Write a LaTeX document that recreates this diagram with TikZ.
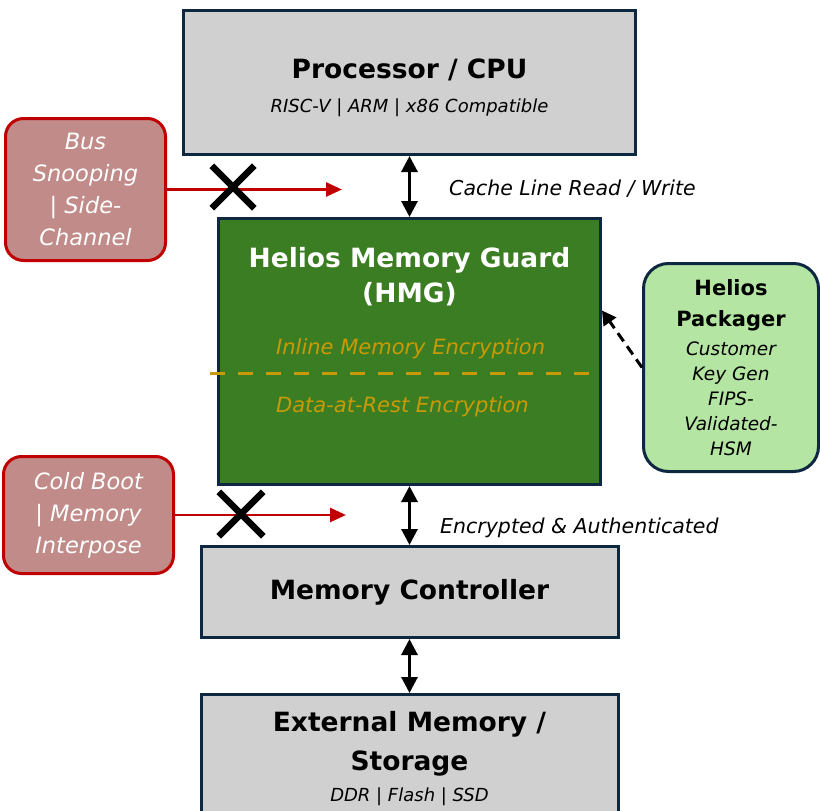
\documentclass[tikz,border=0pt]{standalone}
\usepackage{fontspec}
\setmainfont{DejaVu Sans}
\usepackage{xcolor}
\usepackage{tikz}
\usetikzlibrary{positioning, arrows.meta, shapes.misc}
\definecolor{navy}{HTML}{0E2841}
\definecolor{grey}{HTML}{D0D0D0}
\definecolor{guardgreen}{HTML}{3B7D23}
\definecolor{gold}{HTML}{C99A06}
\definecolor{alertred}{HTML}{C00000}
\definecolor{rose}{HTML}{C08B88}
\definecolor{mint}{HTML}{B4E5A2}
\newcommand\bigbf{\fontsize{26.5}{39}\selectfont\bfseries}
\newcommand\smallit{\fontsize{18}{24}\selectfont\mdseries\itshape}
\newcommand\pkgit{\fontsize{18.5}{25}\selectfont\mdseries\itshape}

\begin{document}
\begin{tikzpicture}[x=1pt, y=-1pt,
    block/.style={draw=navy, line width=3pt, fill=grey, inner sep=0pt, align=center, font=\bigbf},
    caption/.style={inner sep=0pt, align=center, font=\bigbf},
    threat/.style={draw=alertred, line width=3pt, fill=rose, rounded corners=18pt, inner sep=0pt,
      align=center, text=white, font=\fontsize{22.5}{32}\selectfont\itshape},
    link/.style={{Triangle[width=16pt,length=16pt]}-{Triangle[width=16pt,length=16pt]}, line width=3pt},
    attack/.style={-{Triangle[width=14pt,length=16pt]}, draw=alertred, line width=2.8pt},
    blocked/.style={cross out, draw, line width=6.5pt, minimum size=36pt, inner sep=0pt},
    pointer/.style={-{Triangle[width=15pt,length=14pt]}, line width=3pt, dash pattern=on 10pt off 6pt},
    note/.style={anchor=base west, inner sep=0pt, font=\fontsize{20.5}{24}\selectfont\itshape},
    layer/.style={note, text=gold, font=\fontsize{21}{24}\selectfont\itshape}
  ]
  \useasboundingbox (0,0) rectangle (820,811);

  % main data path
  \node[block, minimum width=452pt, minimum height=144pt] (cpu) at (409.5,82.5) {};
  \node[caption] (cputext) at (409.5,88)
    {Processor / CPU\\[-5pt]\smallit RISC-V | ARM | x86 Compatible};
  \node[block, fill=guardgreen, minimum width=382pt, minimum height=266pt] (hmg) at (409.5,351.5) {};
  \node[caption, text=white] (hmgtext) at (409.5,276.5) {Helios Memory Guard\\[-4pt](HMG)};
  \node[layer] (ime) at (276,354) {Inline Memory Encryption};
  \node[layer] (dare) at (276,412) {Data-at-Rest Encryption};
  \draw[gold, line width=3pt, dash pattern=on 15pt off 13pt] (210,373) -- (592,373);
  \node[block, minimum width=417pt, minimum height=91pt] (mc) at (409.5,592) {Memory Controller};
  \node[block, minimum width=417pt, minimum height=128pt] (ext) at (409.5,758.5) {};
  \node[caption] (exttext) at (409.5,759)
    {External Memory /\\Storage\\[-8pt]\smallit DDR | Flash | SSD};

  \foreach \a/\b in {cpu/hmg, hmg/mc, mc/ext}
    \draw[link] (\a.south) -- (\b.north);
  \node[note] (rwnote) at (449,195) {Cache Line Read / Write};
  \node[note] (encnote) at (440,533) {Encrypted \& Authenticated};

  % attacks
  \node[threat, minimum width=160pt, minimum height=142pt] (bus) at (85.5,189.5)
    {Bus\\Snooping\\| Side-\\Channel};
  \node[threat, minimum width=170pt, minimum height=117pt] (cold) at (88.5,515)
    {Cold Boot\\| Memory\\Interpose};
  \coordinate (busend) at (342,189.5);
  \coordinate (coldend) at (346,515);
  \draw[attack] (bus.east) -- (busend);
  \draw[attack] (cold.east) -- (coldend);
  \node[blocked] (xbus) at (233,187) {};
  \node[blocked, minimum size=38pt] (xcold) at (241,514) {};

  % key provisioning
  \node[block, fill=mint, rounded corners=25pt, minimum width=175pt, minimum height=208pt,
    font=\fontsize{21}{31}\selectfont\bfseries] (pkg) at (731,367.5)
    {Helios\\Packager\\[-2pt]\pkgit Customer\\[-6pt]\pkgit Key Gen\\[-6pt]\pkgit FIPS-\\[-6pt]\pkgit Validated-\\[-6pt]\pkgit HSM};
  \draw[pointer] (pkg.west) -- ([yshift=41pt]hmg.east);
\end{tikzpicture}
\end{document}
